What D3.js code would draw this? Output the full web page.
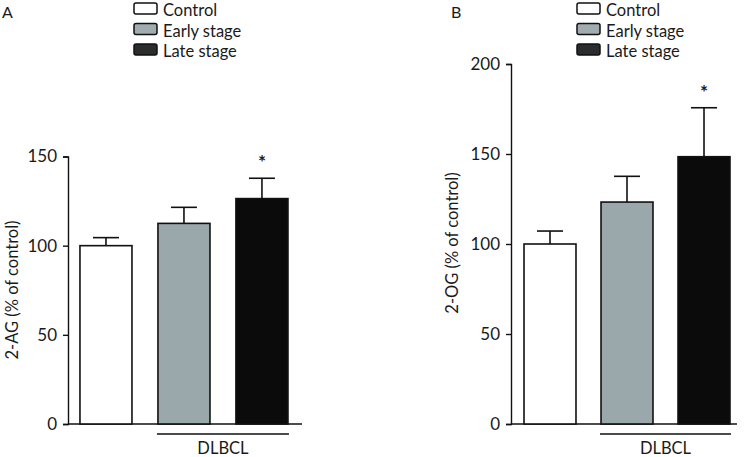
<!DOCTYPE html>
<html><head><meta charset="utf-8">
<script src="https://cdn.jsdelivr.net/npm/d3@7"></script>
<style>body{margin:0;background:#fff}svg{display:block}text{font-family:Lato,"Open Sans",sans-serif;fill:#1a1a1a}</style>
</head><body>
<script>
const categories = ["Control", "Early stage", "Late stage"];
const aMean = [100, 112.5, 126.4];
const aErr = [4.5, 9, 11.4];
const bMean = [100, 123.3, 148.5];
const bErr = [7.2, 14.3, 27.2];
const aTicks = [0, 50, 100, 150];
const bTicks = [0, 50, 100, 150, 200];
const fills = ["#ffffff", "#9aa8ac", "#0b0b0b"];
const legendFills = ["#ffffff", "#a1acb0", "#2a2c2d"];

const W = 744, H = 457;
const svg = d3.select("body").append("svg").attr("width", W).attr("height", H);

function panel(cfg) {
  const g = svg.append("g");
  const x = d3.scaleBand().domain(categories).range([cfg.x0, cfg.x1])
    .paddingInner(cfg.pi).paddingOuter(cfg.po).align(cfg.align);
  const y = d3.scaleLinear().domain([0, cfg.max]).range([424, cfg.yTop]);

  const ya = g.append("g").attr("transform", `translate(${cfg.x0},0)`)
    .call(d3.axisLeft(y).tickValues(cfg.ticks).tickSize(5).tickPadding(6).tickFormat(d3.format("d")));
  ya.select(".domain").attr("stroke", "#111").attr("stroke-width", 1.4);
  ya.selectAll(".tick line").attr("stroke", "#111").attr("stroke-width", 1.4);
  ya.selectAll(".tick text").attr("font-size", 17).attr("font-family", "Lato").attr("fill", "#1a1a1a");

  g.append("line").attr("x1", cfg.x0).attr("x2", cfg.x1).attr("y1", y(0)).attr("y2", y(0))
    .attr("stroke", "#111").attr("stroke-width", 1.4);

  const data = categories.map((c, i) => ({c, m: cfg.mean[i], e: cfg.err[i], f: fills[i]}));
  const bw = x.bandwidth();
  data.forEach(d => {
    const cx = x(d.c) + bw / 2;
    g.append("line").attr("x1", cx).attr("x2", cx).attr("y1", y(d.m)).attr("y2", y(d.m + d.e))
      .attr("stroke", "#111").attr("stroke-width", 1.6);
    g.append("line").attr("x1", cx - bw / 4).attr("x2", cx + bw / 4).attr("y1", y(d.m + d.e)).attr("y2", y(d.m + d.e))
      .attr("stroke", "#111").attr("stroke-width", 1.6);
  });
  g.selectAll("rect.bar").data(data).join("rect").attr("class", "bar")
    .attr("x", d => x(d.c)).attr("width", bw)
    .attr("y", d => y(d.m)).attr("height", d => y(0) - y(d.m))
    .attr("fill", d => d.f).attr("stroke", "#111").attr("stroke-width", 1.6);

  const late = data[2];
  g.append("text").attr("x", x(late.c) + bw / 2).attr("y", y(late.m + late.e) - 9)
    .attr("text-anchor", "middle").attr("font-size", 19).attr("font-weight", "bold").text("*");

  g.append("line").attr("x1", x(categories[1]) - 1).attr("x2", x(categories[2]) + bw + 1)
    .attr("y1", 434).attr("y2", 434).attr("stroke", "#111").attr("stroke-width", 1.4);
  g.append("text").attr("x", (x(categories[1]) + x(categories[2]) + bw) / 2).attr("y", 454)
    .attr("text-anchor", "middle").attr("font-size", 16.5).text("DLBCL");

  g.append("text").attr("transform", `translate(${cfg.labX},${cfg.labY}) rotate(-90)`)
    .attr("text-anchor", "middle").attr("font-size", 16.5).text(cfg.label);

  g.append("text").attr("x", cfg.letterX).attr("y", 18).attr("font-size", 16).text(cfg.letter);

  const lg = g.append("g").attr("transform", `translate(${cfg.legX},0)`);
  categories.forEach((c, i) => {
    lg.append("rect").attr("x", 0).attr("y", 3 + i * 20.5).attr("width", 23).attr("height", 11)
      .attr("rx", 2).attr("fill", legendFills[i]).attr("stroke", "#111").attr("stroke-width", 1.5);
    lg.append("text").attr("x", 29).attr("y", 16 + i * 20.5).attr("font-size", 16.5).text(c);
  });
}

panel({x0: 68, x1: 302, pi: 0.333, po: 0.1667, align: 0.46, max: 150, yTop: 156.5,
  ticks: aTicks, mean: aMean, err: aErr, label: "2-AG (% of control)", labX: 18, labY: 290,
  letter: "A", letterX: 2, legX: 134});
panel({x0: 511, x1: 737, pi: 0.325, po: 0.13, align: 0.65, max: 200, yTop: 64,
  ticks: bTicks, mean: bMean, err: bErr, label: "2-OG (% of control)", labX: 458, labY: 243,
  letter: "B", letterX: 451, legX: 577});
</script>
</body></html>
